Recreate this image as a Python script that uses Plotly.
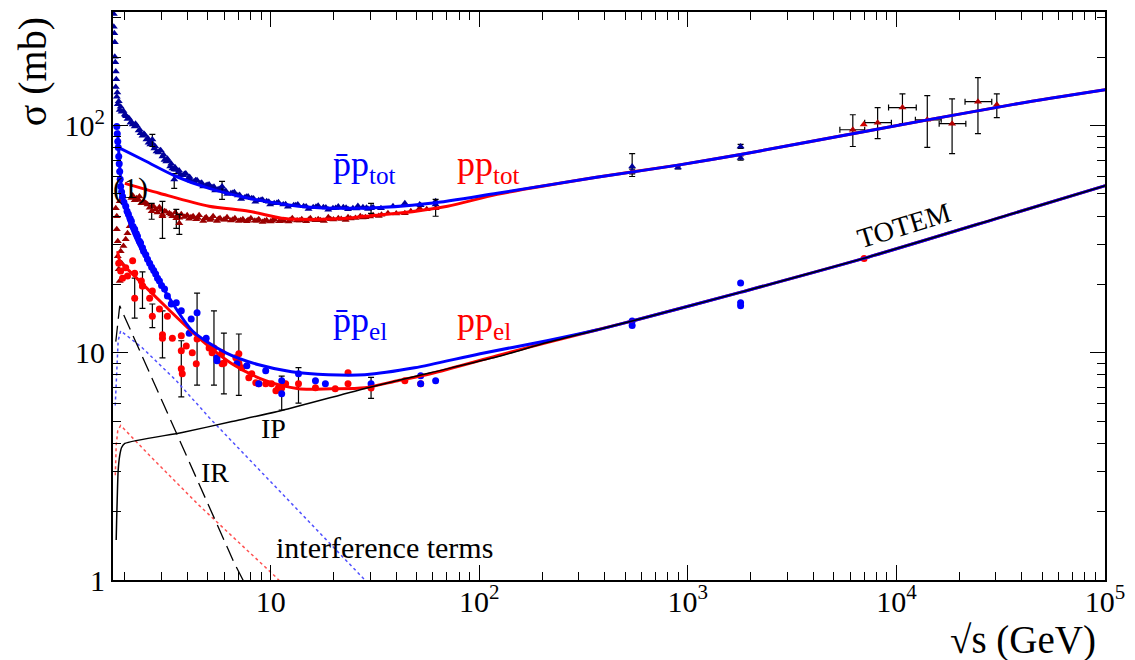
import plotly.graph_objects as go

# ---------------- data (sqrt(s) in GeV, sigma in mb) ----------------
# pbar-p total (low energy band)
pbarp_tot_x = [1.77, 1.77, 1.79, 1.79, 1.81, 1.81, 1.83, 1.85, 1.89, 1.93, 2.0, 2.06, 2.13, 2.23, 2.33, 2.43, 2.54,
               2.65, 2.77, 2.90, 3.03, 3.16, 3.30, 3.45, 3.61, 3.81, 4.03, 4.30, 4.59, 4.91, 5.24, 5.60, 5.97, 6.45,
               6.97, 7.52, 8.12, 8.77, 9.57, 10.4, 11.5, 12.9, 14.4, 16.0, 17.9, 19.9, 22.3, 24.8, 27.7, 31.0, 38.6,
               51.8, 61.8,
               1.78, 1.80, 1.82, 1.84, 1.87, 1.91, 1.97, 2.03, 2.09, 2.18, 2.28, 2.38, 2.49, 2.60, 2.71, 2.84, 2.97,
               3.10, 3.23, 3.38, 3.53, 3.70, 3.92, 4.16, 4.44, 4.75, 5.07, 5.42, 5.78, 6.20, 6.70, 7.22, 7.80, 8.45,
               9.15, 9.95, 10.9, 12.1, 13.5, 15.2, 16.9, 18.9, 21.1, 23.5, 26.2, 29.3, 33.8, 44.0, 52.4,
               2.02, 2.15, 2.25, 2.36, 2.47, 2.58, 2.68, 2.80, 2.94, 3.07, 3.20, 3.34, 3.48, 3.64, 3.86, 4.09, 4.37,
               4.67, 5.00, 5.35, 5.70, 6.10, 6.58, 7.10, 7.66, 8.28, 9.00, 9.80, 10.7, 11.8, 13.2, 14.8, 16.5, 18.4,
               20.5, 23.0, 25.8, 28.8]
pbarp_tot_y = [310, 272, 233, 201, 173, 148, 134, 124, 117, 115, 112, 107, 103, 99, 95.1, 90.3, 86.9,
               82.6, 79.3, 76.2, 73.1, 69.5, 66.1, 64.1, 62.2, 60.4, 58.6, 56.8, 55.7, 54.6, 53.5, 52.4, 51.4, 50.4,
               49.3, 48.3, 47.9, 46.9, 46.4, 45.5, 45.0, 44.6, 44.2, 43.7, 43.7, 43.3, 43.7, 43.3, 43.7, 43.7, 44.2,
               45.0, 46.4,
               255, 190, 160, 140, 128, 121, 116, 110, 108, 101, 100, 92.5, 91.2, 84.0, 83.5, 76.9, 77.8,
               70.5, 70.1, 64.8, 64.0, 60.9, 61.5, 57.2, 57.5, 54.0, 55.1, 51.8, 52.9, 50.0, 50.9, 47.5, 48.8, 46.2,
               47.2, 45.0, 46.0, 43.9, 44.9, 43.0, 44.4, 42.6, 44.0, 42.8, 44.3, 42.9, 43.3, 45.5, 44.6,
               111, 104, 102, 96, 92, 88, 84.5, 81, 77.5, 74.5, 71.5, 68, 65.5, 63.5, 61.2, 59.4, 57.5,
               56.0, 54.8, 53.8, 52.6, 51.6, 50.5, 49.5, 48.6, 47.8, 47.0, 46.2, 45.6, 45.1, 44.6, 44.1, 43.9, 43.6,
               43.4, 43.5, 43.2, 43.5]
# pbar-p total points with error bars
pbarp_tot_err_x = [2.71, 3.45, 5.85, 30.3, 61.8, 541, 541, 897, 1791, 1791]
pbarp_tot_err_y = [86.9, 57.9, 54.0, 43.3, 45.0, 66.1, 62.8, 65.4, 80.9, 72.0]
pbarp_tot_err_up = [4.5, 3.6, 2.8, 2.2, 2.3, 9.2, 1.5, 1.0, 1.7, 1.5]
pbarp_tot_err_dn = [6.0, 5.0, 6.7, 2.2, 5.1, 6.4, 1.5, 1.0, 1.6, 1.5]

# pp total
pp_tot_x = [1.81, 1.83, 1.83, 1.85, 1.85, 1.87, 1.89, 1.91, 1.93, 1.97, 2.02, 2.06, 2.11, 1.89, 1.95,
            2.18, 2.28, 2.35, 2.46, 2.57, 2.69, 2.81, 2.93, 3.10, 3.27, 3.49, 3.73, 3.98, 4.25, 4.54, 4.91, 5.30,
            5.72, 6.18, 6.74, 7.36, 8.04, 8.77, 9.57, 10.4, 11.5, 12.7, 14.1, 15.5, 16.9, 18.9, 21.1, 23.5, 26.9,
            31.0, 36.5, 44.0, 51.8, 61.8,
            2.23, 2.40, 2.63, 2.87, 3.03, 3.38, 3.65, 4.07, 4.40, 4.75, 5.12, 5.53, 5.97, 6.45, 7.04, 7.69, 8.40,
            9.15, 10.0, 11.0, 12.2, 13.4, 14.8, 16.4, 18.0, 20.0, 22.9, 25.5, 28.5, 33.0,
            2.15, 2.33, 2.52, 2.75, 2.98, 3.15, 3.33, 3.56, 3.86, 4.15, 4.48, 4.83, 5.20, 5.62, 6.05, 6.58, 7.18,
            7.80, 8.60, 9.35, 10.2, 11.3, 12.4, 13.8, 15.2, 17.3, 19.4, 21.8, 24.2, 27.6, 30.0, 34.0, 40.0, 47.0,
            56.0]
pp_tot_y = [43.3, 39.9, 35.0, 31.0, 26.6, 23.3, 20.7, 28.0, 24.8, 29.5, 31.6, 33.6, 36.1, 46.4, 48.8,
            49.3, 47.9, 48.8, 46.4, 45.0, 44.2, 42.8, 43.7, 42.0, 41.1, 41.5, 40.7, 40.3, 39.9, 40.3, 39.5, 39.9,
            39.1, 39.5, 39.1, 38.7, 39.1, 38.7, 38.3, 38.7, 38.3, 39.1, 38.7, 39.1, 38.7, 39.5, 39.1, 39.5, 39.9,
            40.3, 41.1, 41.1, 43.3, 43.3,
            46.9, 45.5, 43.5, 41.5, 40.5, 39.9, 39.3, 38.9, 38.7, 38.0, 38.4, 38.0, 38.5, 38.2, 38.0, 37.9, 38.1,
            37.6, 37.8, 37.9, 37.8, 38.2, 37.9, 38.3, 38.0, 38.6, 38.4, 39.2, 39.5, 40.0,
            48.0, 47.0, 45.6, 44.0, 42.5, 41.8, 40.6, 40.0, 39.6, 39.5, 39.2, 39.0, 38.9, 38.8, 38.6, 38.5, 38.3,
            38.4, 38.1, 38.0, 38.1, 38.0, 38.4, 38.2, 38.5, 38.3, 38.7, 38.8, 39.0, 39.4, 39.8, 40.5, 41.0, 42.0,
            42.8]
pp_tot_err_x = [2.69, 3.53, 3.03, 3.65]
pp_tot_err_y = [42.0, 39.1, 39.9, 37.2]
pp_tot_err_up = [3.5, 3.7, 6.5, 3.5]
pp_tot_err_dn = [3.3, 3.8, 8.0, 4.0]

# TOTEM total at 7 TeV
totem_tot_x = [6970]
totem_tot_y = [101]

# cosmic-ray pp total (x and y errors)
cr_x = [6180, 8128, 10690, 14060, 18490, 24600, 30290]
cr_y = [95.9, 103, 120, 106, 102, 127.4, 123.6]
cr_y_up = [15.7, 17.0, 18.0, 29.5, 29.0, 35.1, 14.4]
cr_y_dn = [15.0, 15.3, 18.0, 25.8, 26.7, 35.2, 15.2]
cr_x_up = [867, 1334, 1760, 2340, 3030, 4050, 0]
cr_x_dn = [823, 1081, 1520, 1730, 2460, 3270, 0]

# pbar-p elastic
pbarp_el_x = [1.83, 1.85, 1.87, 1.89, 1.91, 1.95, 2.02, 2.08, 2.15, 2.23, 2.30, 2.38, 2.46, 2.57, 2.69, 2.81,
              2.93, 3.10, 3.34, 3.53, 3.73, 4.16, 4.44, 4.07, 4.91, 5.53, 5.53, 6.89, 7.69, 8.77, 9.47, 11.3, 11.3,
              13.6, 16.4, 18.3, 30.3, 52.4, 52.4, 61.8,
              1.84, 1.86, 1.88, 1.90, 1.93, 1.98, 2.05, 2.12, 2.19, 2.27, 2.35, 2.43, 2.52, 2.63, 2.75, 2.87,
              3.0, 3.2,
              541, 541, 1791, 1791, 1791]
pbarp_el_y = [99, 85.1, 73.1, 62.8, 54.0, 48.8, 44.2, 40.7, 37.9, 35.0, 32.6, 30.4, 28.0, 25.8, 23.8, 22.2,
              20.7, 19.1, 16.4, 16.6, 15.3, 14.1, 15.0, 12.2, 11.6, 9.51, 9.23, 8.95, 8.77, 7.31, 8.34, 7.54, 6.61,
              8.09, 7.54, 7.31, 7.31, 7.93, 7.31, 7.54,
              92, 80, 68, 58, 51, 46, 42, 39, 36, 33.5, 31, 29, 27, 24.8, 23, 21.3, 19.8, 17.8,
              13.8, 13.2, 20.3, 16.6, 16.1]

# pp elastic
pp_el_x = [1.87, 1.91, 1.95, 2.02, 2.06, 2.18, 2.23, 2.40, 2.43, 2.71, 2.63, 2.93, 3.20, 3.03, 3.38, 3.73,
           3.73, 3.94, 4.21, 3.77, 4.40, 5.07, 5.24, 5.85, 5.85, 6.81, 7.04, 7.28, 8.12, 8.49, 9.47, 10.6, 10.9,
           11.8, 7.86, 8.77, 10.1, 16.4, 20.4, 23.5, 23.5, 44.0, 52.4, 7000]
pp_el_y = [24.8, 22.9, 21.3, 23.7, 21.8, 25.4, 22.4, 20.7, 19.7, 18.7, 17.4, 15.6, 14.5, 11.6, 11.6, 11.9,
           10.2, 10.7, 10.0, 8.09, 8.95, 10.5, 10.0, 10.0, 8.95, 9.51, 9.91, 8.59, 8.09, 7.38, 7.31, 6.81, 7.02,
           7.31, 7.77, 7.31, 7.31, 7.02, 6.95, 8.17, 7.31, 7.54, 7.31, 26.0]
el_err_x = [2.23, 2.71, 4.44, 5.35, 5.97, 7.04, 3.73, 3.03, 11.3, 13.6, 30.3, 2.43]
el_err_y = [17.4, 14.5, 11.5, 10.5, 9.0, 9.0, 8.5, 12.0, 7.0, 7.3, 7.0, 19.7]
el_err_up = [3.9, 1.9, 6.8, 4.8, 3.2, 3.1, 2.8, 3.3, 0.9, 1.3, 0.8, 3.0]
el_err_dn = [3.2, 1.6, 4.3, 3.3, 2.4, 2.5, 2.1, 2.5, 1.4, 1.3, 0.7, 4.0]

# fitted curves
fit_pbarp_tot_x = [1.87, 2.43, 3.53, 5.07, 7.86, 13.6, 28.3, 58.4, 122, 365, 897, 1791, 7050, 36500, 101000]
fit_pbarp_tot_y = [80.0, 70.9, 59.7, 52.9, 47.9, 44.2, 43.3, 45.5, 50.4, 59.2, 67.0, 74.6, 94.2, 124, 144]
fit_pp_tot_x = [2.0, 2.93, 5.07, 7.86, 11.3, 13.6, 23.5, 28.3, 40.7, 70.5, 122, 365, 897, 1791, 7050, 36500,
                101000]
fit_pp_tot_y = [55.7, 50.4, 44.2, 42.0, 39.1, 38.7, 39.1, 39.9, 41.1, 44.2, 49.8, 59.2, 67.0, 74.6, 94.2, 124,
                144]
fit_pbarp_el_x = [1.85, 1.87, 1.95, 2.11, 2.35, 2.77, 3.27, 4.21, 6.11, 8.77, 12.6, 18.9, 28.3, 49.0, 101,
                  211, 365, 541, 1800, 7050, 36500, 101000]
fit_pbarp_el_y = [95, 76.9, 48.5, 37.2, 29.5, 22.4, 17.4, 12.5, 10.0, 8.86, 8.26, 8.01, 8.01, 8.59, 9.91,
                  11.3, 12.6, 13.8, 18.5, 26.1, 41.1, 54.5]
fit_pp_el_x = [1.85, 1.89, 2.18, 3.2, 4.54, 6.52, 9.47, 13.6, 19.5, 28.3, 40.7, 58.4, 122, 211, 365, 541,
               1800, 7050, 36500, 101000]
fit_pp_el_y = [28.0, 25.4, 22.2, 15.7, 11.6, 8.95, 7.54, 6.95, 6.95, 7.02, 7.54, 8.09, 9.71, 11.1, 12.6, 13.8,
               18.5, 26.1, 41.1, 54.5]
ip_x = [1.818, 1.827, 1.838, 1.858, 1.89, 1.93, 2.0, 3.77, 6.52, 11.3, 29.3, 58.4, 122, 211, 365, 541, 1800,
        7050, 36500, 101000]
ip_y = [1.50, 1.83, 2.24, 3.03, 3.53, 3.83, 3.99, 4.46, 4.98, 5.57, 7.02, 8.17, 9.6, 11.1, 12.6, 13.8, 18.5,
        26.1, 41.1, 54.5]
ir_x = [1.81, 1.89, 6.66, 7.86]
ir_y = [11.2, 16.1, 1.20, 0.89]
intf_pbarp_x = [1.799, 1.827, 1.858, 1.91, 2.43, 3.53, 5.07, 28.3, 34.5]
intf_pbarp_y = [5.86, 8.34, 11.3, 12.5, 10.5, 7.54, 5.19, 1.0, 0.83]
intf_pp_x = [1.80, 1.818, 1.85, 1.91, 2.63, 4.54, 10.6, 12.2]
intf_pp_y = [2.89, 3.91, 4.55, 4.79, 3.53, 2.13, 1.03, 0.90]

# axis ticks
x_major = [10, 100, 1000, 10000, 100000]
x_major_text = ["10", "10<sup>2</sup>", "10<sup>3</sup>", "10<sup>4</sup>", "10<sup>5</sup>"]
x_minor = [m * 10 ** k for k in range(0, 5) for m in range(2, 10)]
y_major = [1, 10, 100]
y_major_text = ["1", "10", "10<sup>2</sup>"]
y_minor = [m * 10 ** k for k in range(0, 3) for m in range(2, 10) if m * 10 ** k <= 310]

# ---------------- styles ----------------
NAVY = "#00009a"
MAROON = "#9a0000"
BLUE = "#0000ff"
RED = "#ff0000"
FONT = "Liberation Serif"

fig = go.Figure()


def err(up, dn):
    return dict(type="data", symmetric=False, array=up, arrayminus=dn, color="black", thickness=1.2, width=3)


# data points
fig.add_trace(go.Scatter(x=pp_tot_x, y=pp_tot_y, mode="markers",
                         marker=dict(symbol="triangle-up", size=7, color=MAROON)))
fig.add_trace(go.Scatter(x=pp_tot_err_x, y=pp_tot_err_y, mode="markers",
                         marker=dict(symbol="triangle-up", size=7, color=MAROON),
                         error_y=err(pp_tot_err_up, pp_tot_err_dn)))
fig.add_trace(go.Scatter(x=pbarp_tot_x, y=pbarp_tot_y, mode="markers",
                         marker=dict(symbol="triangle-up", size=7, color=NAVY)))
fig.add_trace(go.Scatter(x=pbarp_tot_err_x, y=pbarp_tot_err_y, mode="markers",
                         marker=dict(symbol="triangle-up", size=7, color=NAVY),
                         error_y=err(pbarp_tot_err_up, pbarp_tot_err_dn)))
fig.add_trace(go.Scatter(x=cr_x, y=cr_y, mode="markers",
                         marker=dict(symbol="triangle-up", size=7, color="#b00000"),
                         error_y=err(cr_y_up, cr_y_dn), error_x=err(cr_x_up, cr_x_dn)))
fig.add_trace(go.Scatter(x=totem_tot_x, y=totem_tot_y, mode="markers",
                         marker=dict(symbol="triangle-up", size=7, color="#d00000")))
fig.add_trace(go.Scatter(x=el_err_x, y=el_err_y, mode="markers",
                         marker=dict(symbol="circle", size=7, color=RED),
                         error_y=err(el_err_up, el_err_dn)))
fig.add_trace(go.Scatter(x=pp_el_x, y=pp_el_y, mode="markers",
                         marker=dict(symbol="circle", size=7, color=RED)))
fig.add_trace(go.Scatter(x=pbarp_el_x, y=pbarp_el_y, mode="markers",
                         marker=dict(symbol="circle", size=7, color=BLUE)))

# model curves
fig.add_trace(go.Scatter(x=intf_pp_x, y=intf_pp_y, mode="lines",
                         line=dict(color="#ff5050", width=1.5, dash="dot")))
fig.add_trace(go.Scatter(x=intf_pbarp_x, y=intf_pbarp_y, mode="lines",
                         line=dict(color="#5050ff", width=1.5, dash="dot")))
fig.add_trace(go.Scatter(x=ir_x, y=ir_y, mode="lines",
                         line=dict(color="black", width=1.3, dash="16px,7px")))
fig.add_trace(go.Scatter(x=fit_pp_tot_x, y=fit_pp_tot_y, mode="lines",
                         line=dict(color=RED, width=3, shape="spline", smoothing=0.8)))
fig.add_trace(go.Scatter(x=fit_pbarp_tot_x, y=fit_pbarp_tot_y, mode="lines",
                         line=dict(color=BLUE, width=3, shape="spline", smoothing=0.8)))
fig.add_trace(go.Scatter(x=fit_pp_el_x, y=fit_pp_el_y, mode="lines",
                         line=dict(color=RED, width=3, shape="spline", smoothing=0.8)))
fig.add_trace(go.Scatter(x=fit_pbarp_el_x, y=fit_pbarp_el_y, mode="lines",
                         line=dict(color=BLUE, width=3, shape="spline", smoothing=0.8)))
fig.add_trace(go.Scatter(x=ip_x, y=ip_y, mode="lines",
                         line=dict(color="black", width=1.5, shape="spline", smoothing=0.6)))

axis_common = dict(type="log", showline=True, linecolor="black", linewidth=2, mirror="ticks",
                   ticks="inside", ticklen=15, tickwidth=1.3, tickcolor="black",
                   showgrid=False, zeroline=False, tickmode="array",
                   tickfont=dict(family=FONT, size=30, color="black"))

fig.update_xaxes(**axis_common, range=[0.2443, 5.0], tickvals=x_major, ticktext=x_major_text,
                 ticklabelstandoff=-6,
                 minor=dict(ticks="inside", ticklen=8, tickwidth=1.3, tickcolor="black",
                            tickmode="array", tickvals=x_minor, showgrid=False))
fig.update_yaxes(**axis_common, range=[0, 2.5], tickvals=y_major, ticktext=y_major_text,
                 minor=dict(ticks="inside", ticklen=8, tickwidth=1.3, tickcolor="black",
                            tickmode="array", tickvals=y_minor, showgrid=False))


def ann(text, x, y, size, color="black", xanchor="center", yanchor="middle", angle=0):
    fig.add_annotation(text=text, x=x, y=y, xref="paper", yref="paper", showarrow=False,
                       xanchor=xanchor, yanchor=yanchor, textangle=angle,
                       font=dict(family=FONT, size=size, color=color))


ann("p\u0304p<sub>tot</sub>", 0.220, 0.728, 36, BLUE, xanchor="left")
ann("pp<sub>tot</sub>", 0.345, 0.728, 36, RED, xanchor="left")
ann("p\u0304p<sub>el</sub>", 0.220, 0.4526, 36, BLUE, xanchor="left")
ann("pp<sub>el</sub>", 0.345, 0.4526, 36, RED, xanchor="left")
ann("TOTEM", 0.797, 0.6246, 28, angle=-17)
ann("IP", 0.162, 0.2667, 28)
ann("IR", 0.103, 0.1895, 28)
ann("interference terms", 0.274, 0.0579, 30)
ann("(1)", 0.018, 0.691, 30)
ann("σ (mb)", -0.081, 0.895, 40, angle=-90)
ann("√s (GeV)", 0.993, -0.105, 39, xanchor="right")

fig.update_layout(width=1135, height=660, margin=dict(l=113, r=22, t=10, b=80),
                  plot_bgcolor="white", paper_bgcolor="white", showlegend=False)

fig.write_html("out.html")
